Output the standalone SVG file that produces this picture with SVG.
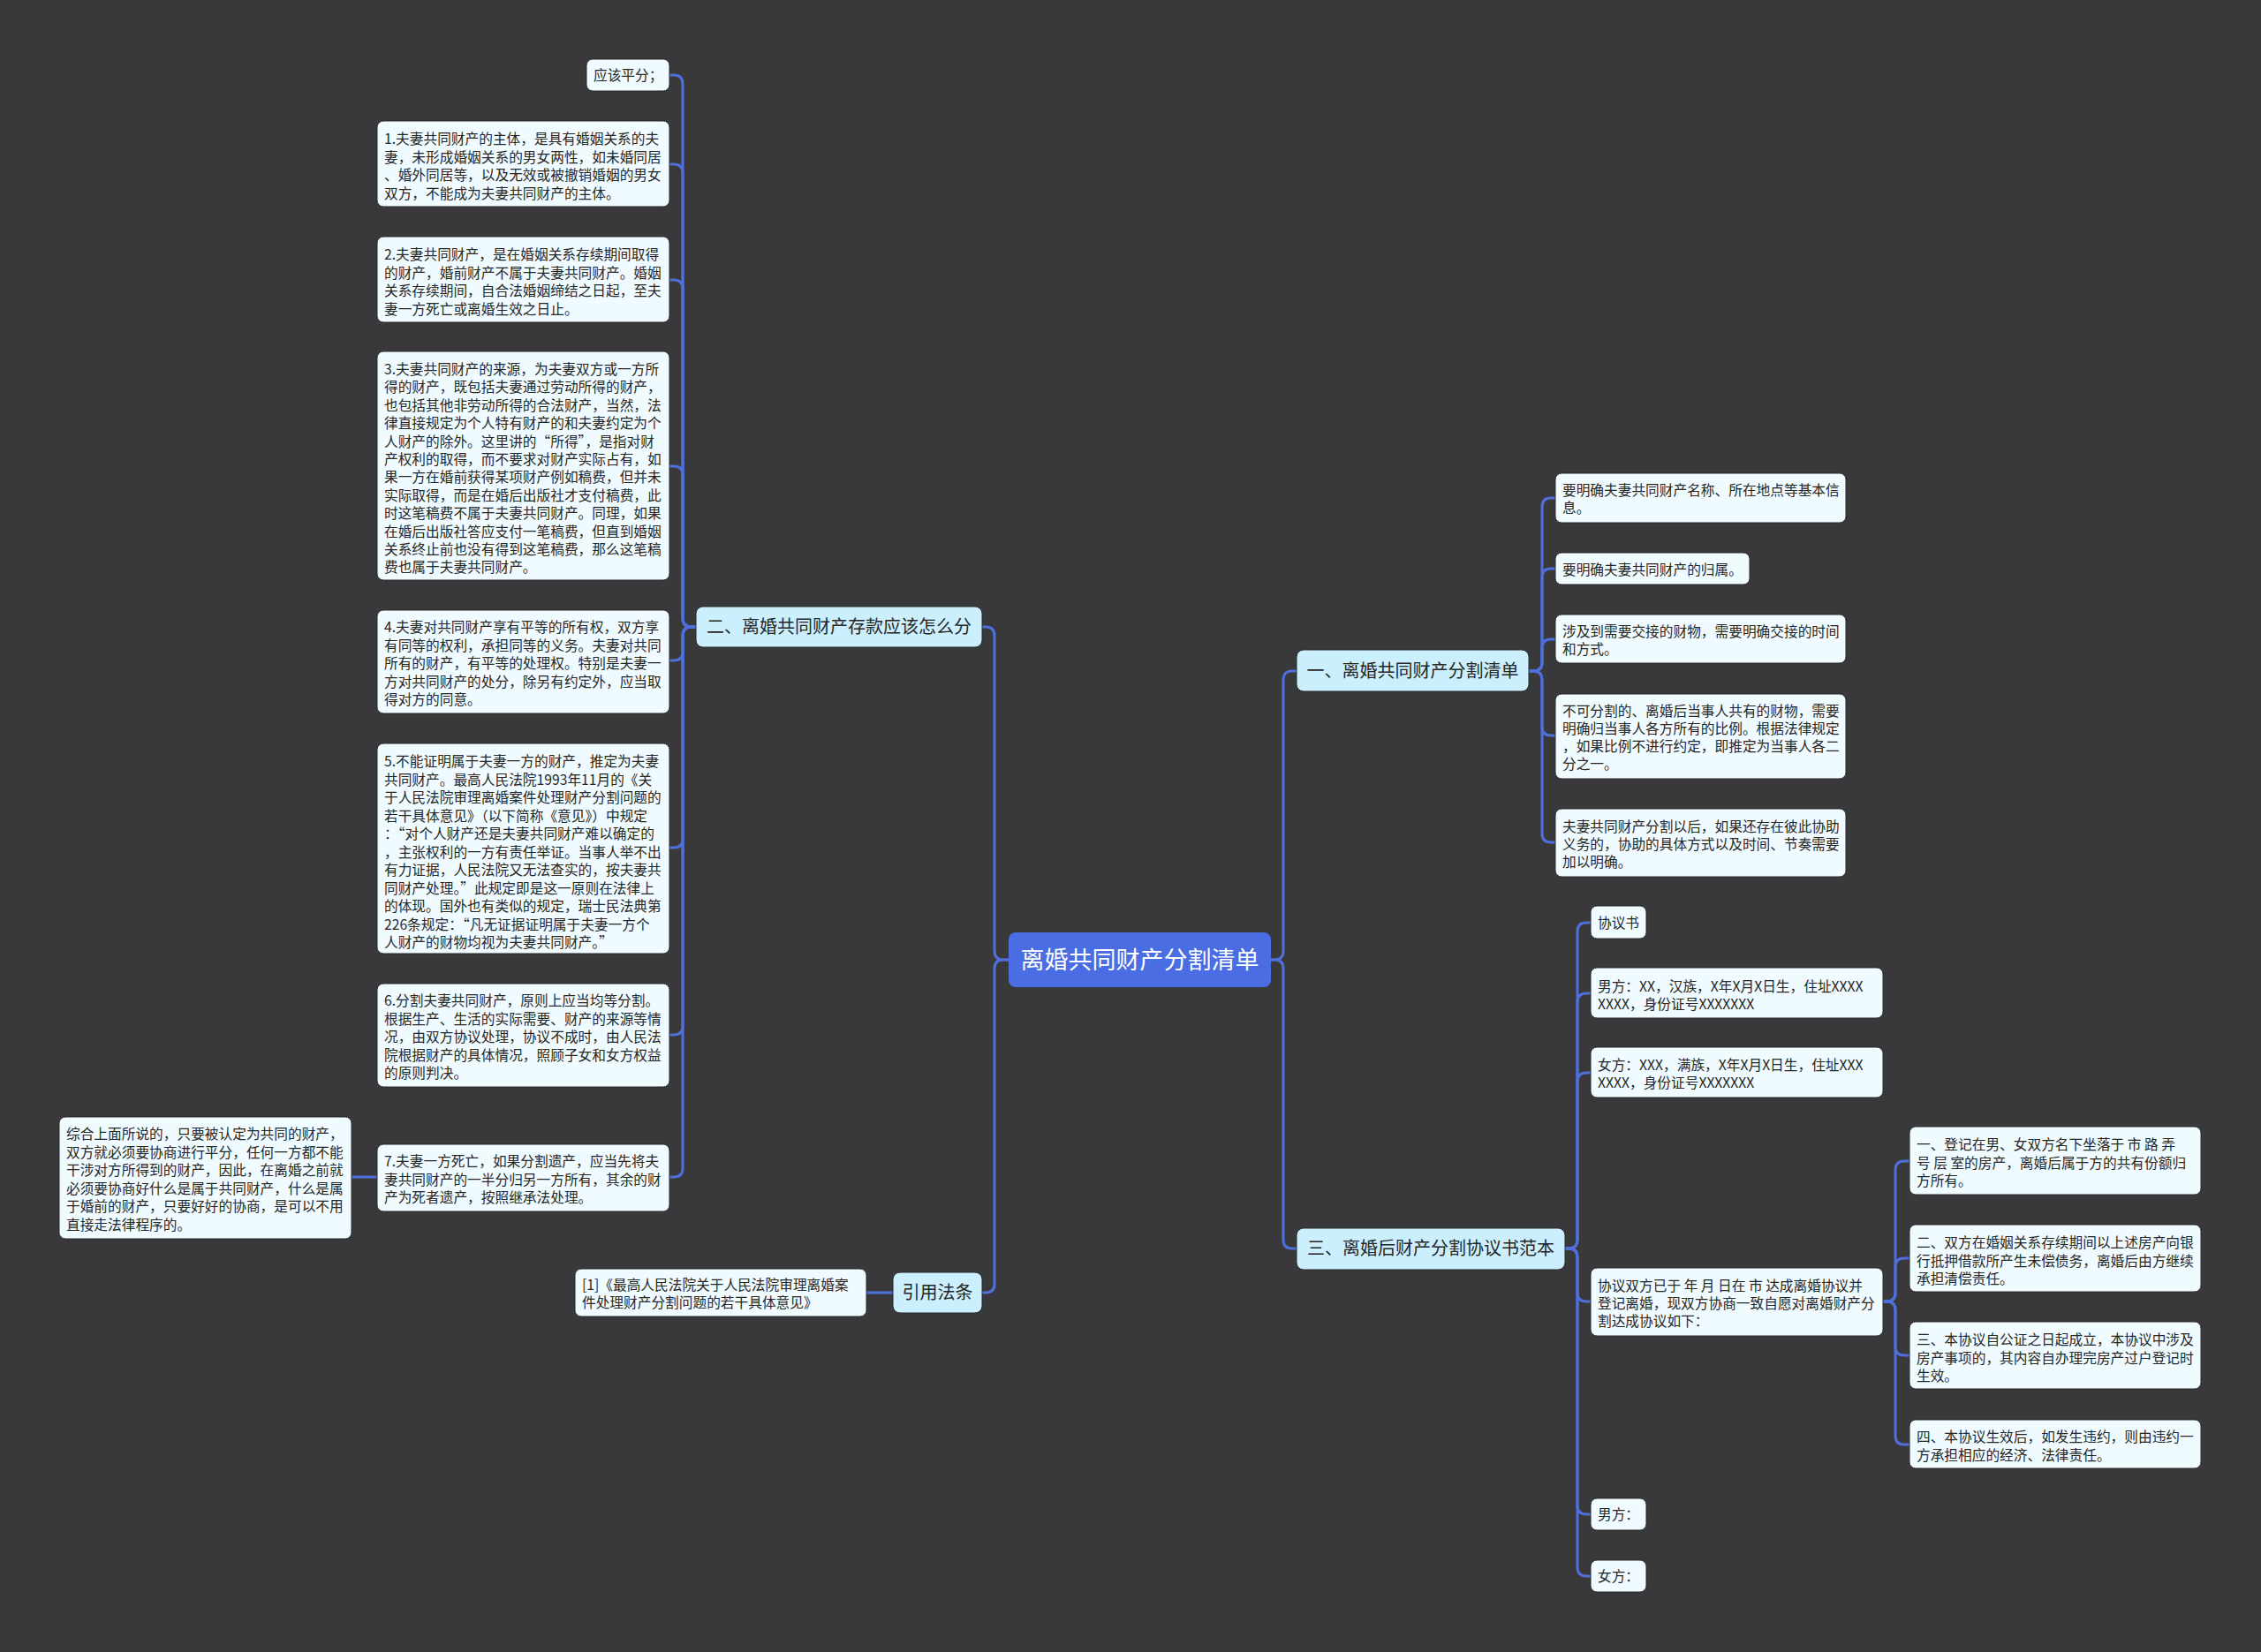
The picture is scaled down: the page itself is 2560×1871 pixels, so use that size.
<svg xmlns="http://www.w3.org/2000/svg" width="2560" height="1871" viewBox="0 0 2560 1871">
<style>
.bg{fill:#39383b}
.leaf{fill:#f0fbff;stroke:#2a2a2c;stroke-width:1}
.l1{fill:#cbeffc;stroke:#2a2a2c;stroke-width:1}
.root{fill:#4a6de3}
.t{font-family:"Noto Sans CJK SC","Noto Sans",sans-serif;font-size:15.7px;fill:#262626}
.t1{font-family:"Noto Sans CJK SC","Noto Sans",sans-serif;font-size:20px;fill:#262626;text-anchor:middle}
.tr{font-family:"Noto Sans CJK SC","Noto Sans",sans-serif;font-size:27px;fill:#ffffff;text-anchor:middle}
.c{fill:none;stroke:#4f6fdc;stroke-width:3;stroke-linecap:round;stroke-linejoin:round}
</style>
<rect class="bg" x="0" y="0" width="2560" height="1871"/>
<g id="connectors">
<path class="c" d="M788,710 H783 Q773,710 773,700 V95 Q773,85 763,85 H758"/>
<path class="c" d="M788,710 H783 Q773,710 773,700 V196 Q773,186 763,186 H758"/>
<path class="c" d="M788,710 H783 Q773,710 773,700 V327 Q773,317 763,317 H758"/>
<path class="c" d="M788,710 H783 Q773,710 773,700 V538 Q773,528 763,528 H758"/>
<path class="c" d="M788,710 H783 Q773,710 773,720 V738 Q773,748 763,748 H758"/>
<path class="c" d="M788,710 H783 Q773,710 773,720 V950 Q773,960 763,960 H758"/>
<path class="c" d="M788,710 H783 Q773,710 773,720 V1162 Q773,1172 763,1172 H758"/>
<path class="c" d="M788,710 H783 Q773,710 773,720 V1323 Q773,1333 763,1333 H758"/>
<path class="c" d="M427,1333 H398"/>
<path class="c" d="M1142,1087 H1136 Q1126,1087 1126,1077 V720 Q1126,710 1116,710 H1112"/>
<path class="c" d="M1142,1087 H1136 Q1126,1087 1126,1097 V1454 Q1126,1464 1116,1464 H1112"/>
<path class="c" d="M1011,1464 H981"/>
<path class="c" d="M1439,1087 H1443 Q1453,1087 1453,1077 V770 Q1453,760 1463,760 H1468"/>
<path class="c" d="M1439,1087 H1443 Q1453,1087 1453,1097 V1404 Q1453,1414 1463,1414 H1468"/>
<path class="c" d="M1731,760 H1736 Q1746,760 1746,750 V574 Q1746,564 1756,564 H1761"/>
<path class="c" d="M1731,760 H1736 Q1746,760 1746,750 V654 Q1746,644 1756,644 H1761"/>
<path class="c" d="M1731,760 H1736 Q1746,760 1746,750 V734 Q1746,724 1756,724 H1761"/>
<path class="c" d="M1731,760 H1736 Q1746,760 1746,770 V823 Q1746,833 1756,833 H1761"/>
<path class="c" d="M1731,760 H1736 Q1746,760 1746,770 V944 Q1746,954 1756,954 H1761"/>
<path class="c" d="M1772,1414 H1776 Q1786,1414 1786,1404 V1055 Q1786,1045 1796,1045 H1801"/>
<path class="c" d="M1772,1414 H1776 Q1786,1414 1786,1404 V1135 Q1786,1125 1796,1125 H1801"/>
<path class="c" d="M1772,1414 H1776 Q1786,1414 1786,1404 V1225 Q1786,1215 1796,1215 H1801"/>
<path class="c" d="M1772,1414 H1776 Q1786,1414 1786,1424 V1464 Q1786,1474 1796,1474 H1801"/>
<path class="c" d="M1772,1414 H1776 Q1786,1414 1786,1424 V1705 Q1786,1715 1796,1715 H1801"/>
<path class="c" d="M1772,1414 H1776 Q1786,1414 1786,1424 V1775 Q1786,1785 1796,1785 H1801"/>
<path class="c" d="M2132,1474 H2136 Q2146,1474 2146,1464 V1325 Q2146,1315 2156,1315 H2162"/>
<path class="c" d="M2132,1474 H2136 Q2146,1474 2146,1464 V1435 Q2146,1425 2156,1425 H2162"/>
<path class="c" d="M2132,1474 H2136 Q2146,1474 2146,1484 V1525 Q2146,1535 2156,1535 H2162"/>
<path class="c" d="M2132,1474 H2136 Q2146,1474 2146,1484 V1626 Q2146,1636 2156,1636 H2162"/>
</g>
<g id="root">
<rect class="root" x="1142" y="1056" width="297" height="62" rx="8"/>
<text class="tr" x="1290.5" y="1096.5">离婚共同财产分割清单</text>
</g>
<g id="b2">
<rect class="l1" x="788" y="687" width="324" height="46" rx="8"/>
<text class="t1" x="950" y="717">二、离婚共同财产存款应该怎么分</text>
</g>
<g id="bcite">
<rect class="l1" x="1011" y="1441" width="101" height="46" rx="8"/>
<text class="t1" x="1061.5" y="1471">引用法条</text>
</g>
<g id="b1">
<rect class="l1" x="1468" y="736" width="263" height="47" rx="8"/>
<text class="t1" x="1599.5" y="767">一、离婚共同财产分割清单</text>
</g>
<g id="b3">
<rect class="l1" x="1468" y="1391" width="304" height="47" rx="8"/>
<text class="t1" x="1620" y="1421">三、离婚后财产分割协议书范本</text>
</g>
<g id="n0">
<rect class="leaf" x="664" y="67" width="94" height="36" rx="7"/>
<text class="t" x="672" y="91">应该平分；</text>
</g>
<g id="n1">
<rect class="leaf" x="427" y="137" width="331" height="97" rx="7"/>
<text class="t" x="435" y="163"><tspan x="435">1.夫妻共同财产的主体，是具有婚姻关系的夫</tspan><tspan x="435" dy="20.5">妻，未形成婚姻关系的男女两性，如未婚同居</tspan><tspan x="435" dy="20.5">、婚外同居等，以及无效或被撤销婚姻的男女</tspan><tspan x="435" dy="20.5">双方，不能成为夫妻共同财产的主体。</tspan></text>
</g>
<g id="n2">
<rect class="leaf" x="427" y="268" width="331" height="97" rx="7"/>
<text class="t" x="435" y="294"><tspan x="435">2.夫妻共同财产，是在婚姻关系存续期间取得</tspan><tspan x="435" dy="20.5">的财产，婚前财产不属于夫妻共同财产。婚姻</tspan><tspan x="435" dy="20.5">关系存续期间，自合法婚姻缔结之日起，至夫</tspan><tspan x="435" dy="20.5">妻一方死亡或离婚生效之日止。</tspan></text>
</g>
<g id="n3">
<rect class="leaf" x="427" y="398" width="331" height="259" rx="7"/>
<text class="t" x="435" y="424"><tspan x="435">3.夫妻共同财产的来源，为夫妻双方或一方所</tspan><tspan x="435" dy="20.4">得的财产，既包括夫妻通过劳动所得的财产，</tspan><tspan x="435" dy="20.4">也包括其他非劳动所得的合法财产，当然，法</tspan><tspan x="435" dy="20.4">律直接规定为个人特有财产的和夫妻约定为个</tspan><tspan x="435" dy="20.4">人财产的除外。这里讲的“所得”，是指对财</tspan><tspan x="435" dy="20.4">产权利的取得，而不要求对财产实际占有，如</tspan><tspan x="435" dy="20.4">果一方在婚前获得某项财产例如稿费，但并未</tspan><tspan x="435" dy="20.4">实际取得，而是在婚后出版社才支付稿费，此</tspan><tspan x="435" dy="20.4">时这笔稿费不属于夫妻共同财产。同理，如果</tspan><tspan x="435" dy="20.4">在婚后出版社答应支付一笔稿费，但直到婚姻</tspan><tspan x="435" dy="20.4">关系终止前也没有得到这笔稿费，那么这笔稿</tspan><tspan x="435" dy="20.4">费也属于夫妻共同财产。</tspan></text>
</g>
<g id="n4">
<rect class="leaf" x="427" y="691" width="331" height="117" rx="7"/>
<text class="t" x="435" y="716"><tspan x="435">4.夫妻对共同财产享有平等的所有权，双方享</tspan><tspan x="435" dy="20.5">有同等的权利，承担同等的义务。夫妻对共同</tspan><tspan x="435" dy="20.5">所有的财产，有平等的处理权。特别是夫妻一</tspan><tspan x="435" dy="20.5">方对共同财产的处分，除另有约定外，应当取</tspan><tspan x="435" dy="20.5">得对方的同意。</tspan></text>
</g>
<g id="n5">
<rect class="leaf" x="427" y="842" width="331" height="238" rx="7"/>
<text class="t" x="435" y="868"><tspan x="435">5.不能证明属于夫妻一方的财产，推定为夫妻</tspan><tspan x="435" dy="20.5">共同财产。最高人民法院1993年11月的《关</tspan><tspan x="435" dy="20.5">于人民法院审理离婚案件处理财产分割问题的</tspan><tspan x="435" dy="20.5">若干具体意见》（以下简称《意见》）中规定</tspan><tspan x="435" dy="20.5">：“对个人财产还是夫妻共同财产难以确定的</tspan><tspan x="435" dy="20.5">，主张权利的一方有责任举证。当事人举不出</tspan><tspan x="435" dy="20.5">有力证据，人民法院又无法查实的，按夫妻共</tspan><tspan x="435" dy="20.5">同财产处理。”此规定即是这一原则在法律上</tspan><tspan x="435" dy="20.5">的体现。国外也有类似的规定，瑞士民法典第</tspan><tspan x="435" dy="20.5">226条规定：“凡无证据证明属于夫妻一方个</tspan><tspan x="435" dy="20.5">人财产的财物均视为夫妻共同财产。”</tspan></text>
</g>
<g id="n6">
<rect class="leaf" x="427" y="1114" width="331" height="117" rx="7"/>
<text class="t" x="435" y="1139"><tspan x="435">6.分割夫妻共同财产，原则上应当均等分割。</tspan><tspan x="435" dy="20.5">根据生产、生活的实际需要、财产的来源等情</tspan><tspan x="435" dy="20.5">况，由双方协议处理，协议不成时，由人民法</tspan><tspan x="435" dy="20.5">院根据财产的具体情况，照顾子女和女方权益</tspan><tspan x="435" dy="20.5">的原则判决。</tspan></text>
</g>
<g id="n7">
<rect class="leaf" x="427" y="1296" width="331" height="76" rx="7"/>
<text class="t" x="435" y="1321"><tspan x="435">7.夫妻一方死亡，如果分割遗产，应当先将夫</tspan><tspan x="435" dy="20.5">妻共同财产的一半分归另一方所有，其余的财</tspan><tspan x="435" dy="20.5">产为死者遗产，按照继承法处理。</tspan></text>
</g>
<g id="n8">
<rect class="leaf" x="67" y="1265" width="331" height="138" rx="7"/>
<text class="t" x="75" y="1290"><tspan x="75">综合上面所说的，只要被认定为共同的财产，</tspan><tspan x="75" dy="20.5">双方就必须要协商进行平分，任何一方都不能</tspan><tspan x="75" dy="20.5">干涉对方所得到的财产，因此，在离婚之前就</tspan><tspan x="75" dy="20.5">必须要协商好什么是属于共同财产，什么是属</tspan><tspan x="75" dy="20.5">于婚前的财产，只要好好的协商，是可以不用</tspan><tspan x="75" dy="20.5">直接走法律程序的。</tspan></text>
</g>
<g id="cite1">
<rect class="leaf" x="651" y="1437" width="330" height="54" rx="7"/>
<text class="t" x="659" y="1461"><tspan x="659">[1]《最高人民法院关于人民法院审理离婚案</tspan><tspan x="659" dy="20">件处理财产分割问题的若干具体意见》</tspan></text>
</g>
<g id="r1">
<rect class="leaf" x="1761" y="536" width="329" height="56" rx="7"/>
<text class="t" x="1769" y="561"><tspan x="1769">要明确夫妻共同财产名称、所在地点等基本信</tspan><tspan x="1769" dy="20">息。</tspan></text>
</g>
<g id="r2">
<rect class="leaf" x="1761" y="626" width="220" height="36" rx="7"/>
<text class="t" x="1769" y="651">要明确夫妻共同财产的归属。</text>
</g>
<g id="r3">
<rect class="leaf" x="1761" y="696" width="329" height="55" rx="7"/>
<text class="t" x="1769" y="721"><tspan x="1769">涉及到需要交接的财物，需要明确交接的时间</tspan><tspan x="1769" dy="20">和方式。</tspan></text>
</g>
<g id="r4">
<rect class="leaf" x="1761" y="786" width="329" height="96" rx="7"/>
<text class="t" x="1769" y="811"><tspan x="1769">不可分割的、离婚后当事人共有的财物，需要</tspan><tspan x="1769" dy="20">明确归当事人各方所有的比例。根据法律规定</tspan><tspan x="1769" dy="20">，如果比例不进行约定，即推定为当事人各二</tspan><tspan x="1769" dy="20">分之一。</tspan></text>
</g>
<g id="r5">
<rect class="leaf" x="1761" y="916" width="329" height="77" rx="7"/>
<text class="t" x="1769" y="942"><tspan x="1769">夫妻共同财产分割以后，如果还存在彼此协助</tspan><tspan x="1769" dy="20">义务的，协助的具体方式以及时间、节奏需要</tspan><tspan x="1769" dy="20">加以明确。</tspan></text>
</g>
<g id="p1">
<rect class="leaf" x="1801" y="1026" width="63" height="37" rx="7"/>
<text class="t" x="1809" y="1051">协议书</text>
</g>
<g id="p2">
<rect class="leaf" x="1801" y="1096" width="331" height="57" rx="7"/>
<text class="t" x="1809" y="1123"><tspan x="1809">男方：XX，汉族，X年X月X日生，住址XXXX</tspan><tspan x="1809" dy="20">XXXX，身份证号XXXXXXX</tspan></text>
</g>
<g id="p3">
<rect class="leaf" x="1801" y="1186" width="331" height="57" rx="7"/>
<text class="t" x="1809" y="1212"><tspan x="1809">女方：XXX，满族，X年X月X日生，住址XXX</tspan><tspan x="1809" dy="20">XXXX，身份证号XXXXXXX</tspan></text>
</g>
<g id="p4">
<rect class="leaf" x="1801" y="1436" width="331" height="77" rx="7"/>
<text class="t" x="1809" y="1462"><tspan x="1809">协议双方已于 年 月 日在 市 达成离婚协议并</tspan><tspan x="1809" dy="20">登记离婚，现双方协商一致自愿对离婚财产分</tspan><tspan x="1809" dy="20">割达成协议如下：</tspan></text>
</g>
<g id="p5">
<rect class="leaf" x="1801" y="1697" width="63" height="36" rx="7"/>
<text class="t" x="1809" y="1721">男方：</text>
</g>
<g id="p6">
<rect class="leaf" x="1801" y="1767" width="63" height="36" rx="7"/>
<text class="t" x="1809" y="1791">女方：</text>
</g>
<g id="s1">
<rect class="leaf" x="2162" y="1276" width="330" height="77" rx="7"/>
<text class="t" x="2170" y="1302"><tspan x="2170">一、登记在男、女双方名下坐落于 市 路 弄</tspan><tspan x="2170" dy="20.5">号 层 室的房产，离婚后属于方的共有份额归</tspan><tspan x="2170" dy="20.5">方所有。</tspan></text>
</g>
<g id="s2">
<rect class="leaf" x="2162" y="1387" width="330" height="76" rx="7"/>
<text class="t" x="2170" y="1413"><tspan x="2170">二、双方在婚姻关系存续期间以上述房产向银</tspan><tspan x="2170" dy="20.5">行抵押借款所产生未偿债务，离婚后由方继续</tspan><tspan x="2170" dy="20.5">承担清偿责任。</tspan></text>
</g>
<g id="s3">
<rect class="leaf" x="2162" y="1497" width="330" height="76" rx="7"/>
<text class="t" x="2170" y="1523"><tspan x="2170">三、本协议自公证之日起成立，本协议中涉及</tspan><tspan x="2170" dy="20.5">房产事项的，其内容自办理完房产过户登记时</tspan><tspan x="2170" dy="20.5">生效。</tspan></text>
</g>
<g id="s4">
<rect class="leaf" x="2162" y="1608" width="330" height="55" rx="7"/>
<text class="t" x="2170" y="1633"><tspan x="2170">四、本协议生效后，如发生违约，则由违约一</tspan><tspan x="2170" dy="20.5">方承担相应的经济、法律责任。</tspan></text>
</g>
</svg>
